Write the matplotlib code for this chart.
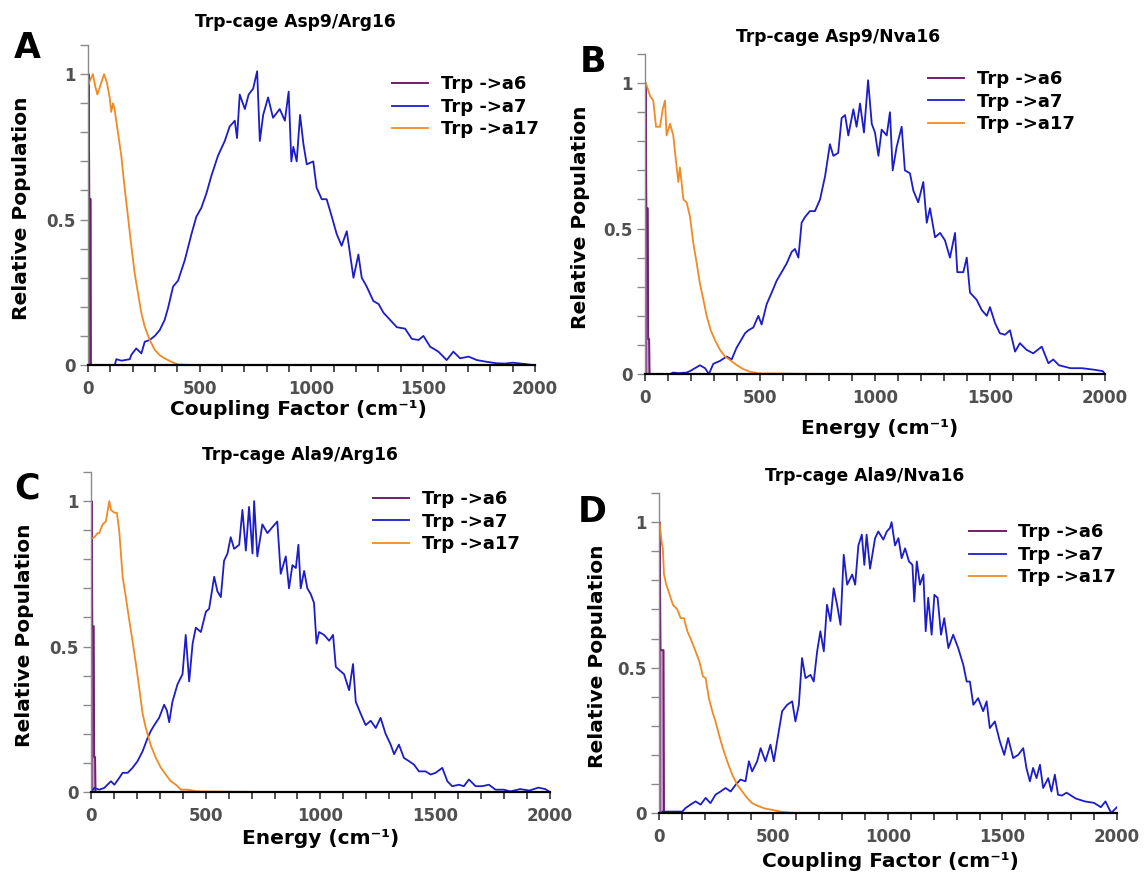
import matplotlib
matplotlib.use("Agg")
import matplotlib.pyplot as plt
from matplotlib.ticker import MultipleLocator, FuncFormatter

# ---- panel A: Trp-cage Asp9/Arg16 ----
a_a6_x = [3, 3, 6, 12, 13]
a_a6_y = [0, 1.0, 0.57, 0.57, 0.0]
a_a7_x = [15, 120, 127, 150, 187, 194, 216, 239, 254, 276,
          299, 321, 343, 358, 381, 403, 433, 463, 485, 507,
          530, 552, 582, 612, 634, 657, 667, 679, 702, 719,
          739, 757, 769, 784, 806, 828, 858, 881, 898, 910,
          919, 934, 949, 964, 979, 1008, 1023, 1046, 1068, 1091,
          1113, 1135, 1158, 1173, 1188, 1210, 1225, 1247, 1277, 1300,
          1322, 1352, 1382, 1419, 1449, 1479, 1501, 1531, 1568, 1605,
          1635, 1665, 1703, 1740, 1785, 1829, 1867, 1900, 1950, 1990]
a_a7_y = [0, 0, 0.02, 0.015, 0.02, 0.035, 0.057, 0.04, 0.08, 0.086,
          0.10, 0.12, 0.155, 0.195, 0.27, 0.29, 0.36, 0.45, 0.51, 0.54,
          0.59, 0.65, 0.72, 0.77, 0.82, 0.84, 0.78, 0.93, 0.88, 0.93,
          0.95, 1.01, 0.77, 0.86, 0.92, 0.85, 0.88, 0.84, 0.94, 0.70,
          0.75, 0.70, 0.86, 0.76, 0.69, 0.70, 0.61, 0.57, 0.57, 0.51,
          0.45, 0.41, 0.46, 0.38, 0.30, 0.38, 0.30, 0.27, 0.22, 0.21,
          0.18, 0.155, 0.13, 0.125, 0.09, 0.086, 0.10, 0.063, 0.046, 0.017,
          0.046, 0.023, 0.029, 0.017, 0.011, 0.006, 0.005, 0.008, 0.004, 0.0]
a_a17_x = [0, 10, 22, 32, 42, 55, 72, 85, 97, 104,
           112, 119, 134, 149, 164, 179, 194, 209, 224, 239,
           254, 276, 299, 321, 343, 373, 403, 470, 540]
a_a17_y = [0.96, 0.98, 1.0, 0.96, 0.93, 0.96, 1.0, 0.97, 0.92, 0.87,
           0.90, 0.88, 0.80, 0.72, 0.61, 0.51, 0.41, 0.315, 0.246, 0.178,
           0.132, 0.086, 0.052, 0.034, 0.023, 0.011, 0.002, 0.0, 0.0]

# ---- panel B: Trp-cage Asp9/Nva16 ----
b_a6_x = [3, 3, 6, 12, 14, 18, 20]
b_a6_y = [0, 1.0, 0.57, 0.57, 0.12, 0.12, 0.0]
b_a7_x = [10, 109, 123, 145, 181, 196, 217, 239, 261, 278,
          297, 326, 355, 377, 398, 413, 435, 449, 471, 493,
          507, 529, 551, 572, 594, 616, 638, 652, 667, 681,
          696, 717, 739, 761, 783, 804, 819, 840, 855, 870,
          884, 906, 920, 935, 952, 970, 986, 1000, 1015, 1029,
          1051, 1065, 1077, 1094, 1116, 1130, 1152, 1167, 1188, 1210,
          1225, 1239, 1261, 1283, 1304, 1326, 1348, 1358, 1384, 1399,
          1413, 1442, 1464, 1486, 1500, 1522, 1543, 1565, 1587, 1609,
          1630, 1659, 1688, 1725, 1754, 1775, 1800, 1850, 1900, 1950,
          1990, 2000]
b_a7_y = [0, 0, 0.005, 0.003, 0.005, 0.01, 0.02, 0.03, 0.02, 0.0,
          0.035, 0.045, 0.06, 0.05, 0.09, 0.11, 0.14, 0.15, 0.16, 0.20,
          0.17, 0.24, 0.28, 0.32, 0.35, 0.38, 0.42, 0.43, 0.40, 0.52,
          0.54, 0.56, 0.56, 0.60, 0.68, 0.79, 0.75, 0.76, 0.88, 0.89,
          0.82, 0.91, 0.85, 0.93, 0.83, 1.01, 0.86, 0.83, 0.75, 0.84,
          0.82, 0.90, 0.70, 0.78, 0.85, 0.70, 0.69, 0.63, 0.59, 0.66,
          0.52, 0.57, 0.47, 0.485, 0.46, 0.40, 0.485, 0.35, 0.35, 0.40,
          0.28, 0.255, 0.22, 0.20, 0.23, 0.175, 0.14, 0.135, 0.15, 0.077,
          0.106, 0.083, 0.071, 0.094, 0.037, 0.05, 0.03, 0.02, 0.02, 0.015,
          0.01, 0.0]
b_a17_x = [0, 4, 22, 36, 48, 65, 77, 87, 94, 109,
           123, 135, 145, 152, 167, 181, 196, 210, 225, 239,
           254, 268, 286, 304, 326, 348, 370, 398, 427, 456,
           500, 790]
b_a17_y = [1.0, 1.0, 0.956, 0.94, 0.85, 0.85, 0.91, 0.94, 0.82, 0.86,
           0.82, 0.73, 0.66, 0.71, 0.60, 0.59, 0.54, 0.45, 0.38, 0.31,
           0.255, 0.20, 0.15, 0.117, 0.083, 0.06, 0.048, 0.031, 0.017, 0.008,
           0.002, 0.0]

# ---- panel C: Trp-cage Ala9/Arg16 ----
c_a6_x = [3, 3, 6, 12, 14, 18, 20]
c_a6_y = [0, 1.0, 0.57, 0.57, 0.12, 0.12, 0.0]
c_a7_x = [0, 15, 36, 58, 87, 102, 123, 138, 160, 181,
          203, 225, 247, 261, 276, 297, 319, 331, 341, 355,
          377, 399, 413, 428, 443, 457, 479, 501, 515, 537,
          551, 566, 580, 595, 609, 624, 646, 660, 675, 689,
          704, 711, 725, 747, 769, 790, 812, 827, 849, 863,
          878, 893, 904, 914, 929, 943, 958, 972, 983, 994,
          1016, 1038, 1055, 1067, 1081, 1103, 1125, 1142, 1154, 1175,
          1197, 1219, 1241, 1262, 1284, 1306, 1321, 1342, 1364, 1386,
          1408, 1429, 1458, 1480, 1502, 1531, 1553, 1574, 1604, 1625,
          1647, 1676, 1705, 1734, 1763, 1799, 1828, 1870, 1910, 1950,
          1980, 2000]
c_a7_y = [0.0, 0.014, 0.008, 0.014, 0.037, 0.025, 0.048, 0.066, 0.066, 0.083,
          0.106, 0.14, 0.186, 0.21, 0.23, 0.255, 0.30, 0.28, 0.24, 0.31,
          0.37, 0.405, 0.54, 0.38, 0.51, 0.565, 0.55, 0.62, 0.63, 0.74,
          0.69, 0.67, 0.795, 0.82, 0.876, 0.836, 0.85, 0.97, 0.83, 0.98,
          0.82, 1.0, 0.81, 0.92, 0.89, 0.91, 0.93, 0.75, 0.81, 0.70,
          0.78, 0.77, 0.85, 0.70, 0.76, 0.70, 0.68, 0.65, 0.51, 0.55,
          0.54, 0.52, 0.54, 0.43, 0.42, 0.405, 0.35, 0.44, 0.31, 0.27,
          0.23, 0.245, 0.22, 0.255, 0.20, 0.163, 0.13, 0.163, 0.117, 0.106,
          0.094, 0.071, 0.071, 0.06, 0.066, 0.083, 0.037, 0.02, 0.025, 0.02,
          0.043, 0.02, 0.02, 0.025, 0.008, 0.008, 0.002, 0.01, 0.005, 0.015,
          0.01, 0.0]
c_a17_x = [0, 15, 29, 36, 51, 65, 80, 87, 102, 113,
           123, 138, 152, 167, 181, 196, 210, 225, 239, 261,
           283, 305, 326, 348, 370, 392, 421, 464, 765]
c_a17_y = [0.87, 0.876, 0.89, 0.89, 0.92, 0.93, 1.0, 0.97, 0.96, 0.96,
           0.90, 0.74, 0.67, 0.59, 0.52, 0.44, 0.36, 0.27, 0.22, 0.16,
           0.117, 0.083, 0.06, 0.037, 0.025, 0.008, 0.008, 0.002, 0.0]

# ---- panel D: Trp-cage Ala9/Nva16 ----
d_a6_x = [3, 3, 7, 20, 22]
d_a6_y = [0, 1.0, 0.56, 0.56, 0.0]
d_a7_x = [15, 102, 116, 138, 160, 182, 204, 225, 247, 269,
          291, 313, 335, 356, 378, 393, 407, 429, 444, 465,
          487, 502, 516, 538, 560, 582, 596, 611, 625, 640,
          662, 676, 691, 705, 720, 734, 749, 763, 778, 793,
          807, 822, 844, 857, 871, 886, 897, 907, 922, 944,
          958, 980, 995, 1009, 1016, 1031, 1046, 1060, 1075, 1092,
          1107, 1115, 1126, 1140, 1155, 1165, 1176, 1191, 1203, 1217,
          1232, 1246, 1264, 1285, 1307, 1329, 1344, 1358, 1373, 1394,
          1416, 1431, 1445, 1467, 1489, 1508, 1525, 1547, 1569, 1591,
          1605, 1620, 1634, 1649, 1664, 1678, 1700, 1714, 1729, 1743,
          1760, 1780, 1820, 1860, 1900, 1930, 1950, 1975, 2000]
d_a7_y = [0.005, 0.005, 0.017, 0.029, 0.04, 0.029, 0.052, 0.034, 0.063, 0.074,
          0.086, 0.074, 0.097, 0.115, 0.109, 0.178, 0.143, 0.178, 0.223, 0.178,
          0.235, 0.178, 0.246, 0.35, 0.372, 0.384, 0.315, 0.372, 0.533, 0.464,
          0.475, 0.452, 0.556, 0.625, 0.556, 0.716, 0.66, 0.773, 0.716, 0.647,
          0.888, 0.785, 0.82, 0.785, 0.92, 0.957, 0.853, 0.957, 0.84, 0.945,
          0.968, 0.94, 0.968, 0.98, 1.0, 0.92, 0.945, 0.876, 0.91, 0.865,
          0.853, 0.727, 0.865, 0.785, 0.82, 0.625, 0.74, 0.613, 0.75, 0.74,
          0.613, 0.67, 0.567, 0.613, 0.567, 0.51, 0.452, 0.452, 0.372, 0.395,
          0.35, 0.384, 0.292, 0.315, 0.246, 0.20, 0.258, 0.189, 0.20, 0.223,
          0.155, 0.109, 0.155, 0.12, 0.166, 0.086, 0.12, 0.074, 0.132, 0.063,
          0.06, 0.07, 0.05, 0.04, 0.035, 0.02, 0.04, 0.0, 0.02]
d_a17_x = [0, 3, 12, 17, 22, 32, 47, 61, 80, 95,
           109, 124, 138, 160, 177, 192, 204, 218, 233, 247,
           262, 279, 298, 320, 342, 364, 385, 407, 436, 465,
           495, 524, 553, 582, 625]
d_a17_y = [1.0, 1.0, 0.93, 0.91, 0.82, 0.785, 0.75, 0.716, 0.70, 0.67,
           0.67, 0.625, 0.60, 0.556, 0.52, 0.47, 0.464, 0.395, 0.35, 0.315,
           0.27, 0.223, 0.178, 0.132, 0.097, 0.074, 0.052, 0.034, 0.023, 0.015,
           0.011, 0.006, 0.003, 0.001, 0.0]

titles = ["Trp-cage Asp9/Arg16", "Trp-cage Asp9/Nva16",
          "Trp-cage Ala9/Arg16", "Trp-cage Ala9/Nva16"]
letters = ["A", "B", "C", "D"]
xlabels = ["Coupling Factor (cm⁻¹)", "Energy (cm⁻¹)",
           "Energy (cm⁻¹)", "Coupling Factor (cm⁻¹)"]
labels = ["Trp ->a6", "Trp ->a7", "Trp ->a17"]

col_a6 = "#6e1f6e"
col_a6_fill = "#c99ac9"
col_a7 = "#1c1cc8"
col_a17 = "#f08a24"

plt.rcParams['font.family'] = ['DejaVu Sans']
plt.rcParams['font.weight'] = 'bold'

fig = plt.figure(figsize=(11.44, 8.8), dpi=100)

# axes rect, title pos, letter pos (px), legend anchor, xlabel pos, ylabel x
layout = [
    dict(rect=[0.0769, 0.5852, 0.3907, 0.3636], title=(0.463, 1.072), letter=(27, 48),
         leg=(0.68, 0.905), xl=(0.47, -0.14), yl=-0.148),
    dict(rect=[0.5638, 0.575, 0.4021, 0.3636], title=(0.42, 1.053), letter=(593, 62),
         leg=(0.615, 0.95), xl=(0.51, -0.17), yl=-0.141),
    dict(rect=[0.0795, 0.100, 0.4012, 0.3636], title=(0.455, 1.053), letter=(27, 488),
         leg=(0.615, 0.943), xl=(0.50, -0.144), yl=-0.144),
    dict(rect=[0.576, 0.0761, 0.4003, 0.3636], title=(0.45, 1.053), letter=(592, 512),
         leg=(0.678, 0.905), xl=(0.505, -0.153), yl=-0.135),
]

series = [
    (a_a6_x, a_a6_y, a_a7_x, a_a7_y, a_a17_x, a_a17_y),
    (b_a6_x, b_a6_y, b_a7_x, b_a7_y, b_a17_x, b_a17_y),
    (c_a6_x, c_a6_y, c_a7_x, c_a7_y, c_a17_x, c_a17_y),
    (d_a6_x, d_a6_y, d_a7_x, d_a7_y, d_a17_x, d_a17_y),
]

for i in range(4):
    lay = layout[i]
    x6, y6, x7, y7, x17, y17 = series[i]
    ax = fig.add_axes(lay['rect'])

    ax.fill_between(x6, y6, color=col_a6_fill, lw=0)
    ax.plot(x6, y6, color=col_a6, lw=1.4, label=labels[0])
    ax.plot(x7, y7, color=col_a7, lw=1.3, label=labels[1])
    ax.plot(x17, y17, color=col_a17, lw=1.3, label=labels[2])

    ax.set_xlim(0, 2000)
    ax.set_ylim(0, 1.1)
    ax.xaxis.set_major_locator(MultipleLocator(500))
    ax.xaxis.set_minor_locator(MultipleLocator(100))
    ax.yaxis.set_major_locator(MultipleLocator(0.5))
    ax.yaxis.set_minor_locator(MultipleLocator(0.1))
    ax.yaxis.set_major_formatter(FuncFormatter(lambda v, p: f"{v:g}"))

    for s in ['top', 'right']:
        ax.spines[s].set_visible(False)
    ax.spines['left'].set_color('#8a8a8a')
    ax.spines['left'].set_linewidth(1.0)
    ax.spines['bottom'].set_color('black')
    ax.spines['bottom'].set_linewidth(1.6)

    ax.tick_params(axis='y', which='both', direction='out', color='#8a8a8a',
                   length=6, width=1.0, labelsize=12, labelcolor='#505050', pad=3)
    ax.tick_params(axis='x', which='both', direction='out', color='#333333',
                   length=5, width=1.2, labelsize=12, labelcolor='#505050', pad=6)

    ax.text(lay['title'][0], lay['title'][1], titles[i], transform=ax.transAxes,
            ha='center', va='center', fontsize=12.3, fontweight='bold')
    fig.text(lay['letter'][0] / 1144, 1 - lay['letter'][1] / 880, letters[i],
             ha='center', va='center', fontsize=25, fontweight='bold')

    ax.set_xlabel(xlabels[i], fontsize=14.5, fontweight='bold')
    ax.xaxis.set_label_coords(*lay['xl'])
    ax.xaxis.label.set_verticalalignment('center')
    ax.set_ylabel("Relative Population", fontsize=14.5, fontweight='bold')
    ax.yaxis.set_label_coords(lay['yl'], 0.49)
    ax.yaxis.label.set_verticalalignment('center')

    ax.legend(loc='upper left', bbox_to_anchor=lay['leg'], frameon=False,
              prop={'weight': 'bold', 'size': 13}, handlelength=2.0,
              handletextpad=0.7, labelspacing=0.25, borderpad=0, borderaxespad=0)

fig.savefig("out.png", dpi=100)
